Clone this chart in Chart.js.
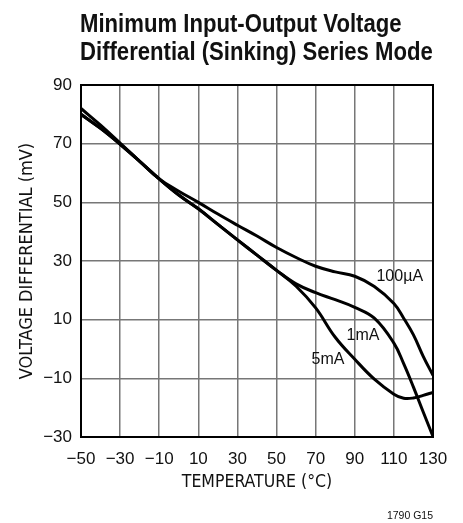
<!DOCTYPE html>
<html>
<head>
<meta charset="utf-8">
<script src="https://cdn.jsdelivr.net/npm/chart.js@4.4.1/dist/chart.umd.min.js"></script>
<style>
  html, body { margin: 0; padding: 0; background: #fff; }
  #wrap { width: 463px; height: 523px; position: relative; }
</style>
</head>
<body>
<div id="wrap"><canvas id="c" width="463" height="523"></canvas></div>
<script>
// ---- data ----
const temperatures = [-50, -40, -30, -20, -10, 0, 10, 20, 30, 40, 50, 60, 70, 80, 90, 100, 110, 115, 120, 125, 130];
const diff100uA = [82, 76.3, 70.2, 64, 58, 53.8, 50, 46, 42.2, 38.5, 34.6, 31.2, 28.2, 26.3, 24.8, 21.3, 15.5, 10.5, 4.8, -2.5, -9];
const diff1mA   = [80, 75.2, 69.8, 64, 58, 52.5, 47.8, 42.5, 37.2, 32, 26.8, 22.2, 19.2, 16.8, 14.2, 10.5, 2.0, -5, -13, -21.5, -29.8];
const diff5mA   = [80, 75.2, 69.8, 64, 58, 52.5, 47.8, 42.5, 37.2, 32, 26.8, 21.4, 14, 4, -3.5, -10.3, -15.4, -16.8, -16.7, -15.8, -14.8];
const seriesNames = ['100\u00B5A', '1mA', '5mA'];
const xTickValues = [-50, -30, -10, 10, 30, 50, 70, 90, 110, 130];
const yTickValues = [-30, -10, 10, 30, 50, 70, 90];
const titleLines = ['Minimum Input-Output Voltage', 'Differential (Sinking) Series Mode'];
const xAxisTitle = 'TEMPERATURE (\u00B0C)';
const yAxisTitle = 'VOLTAGE DIFFERENTIAL (mV)';
const footnote = '1790 G15';
// curve label anchors in data units [temperature, mV]
const curveLabelAnchors = [[113, 24.7], [94.2, 4.5], [76.3, -3.5]];

const NARROW = "'DejaVu Sans Condensed', 'Liberation Sans', sans-serif";
const REG = "'Liberation Sans', Arial, sans-serif";

function toPts(vals) { return temperatures.map((t, i) => ({ x: t, y: vals[i] })); }
function fmt(v) { return v < 0 ? '\u2212' + Math.abs(v) : String(v); }

const decorPlugin = {
  id: 'decor',
  afterDraw(chart) {
    const ctx = chart.ctx;
    const ca = chart.chartArea;
    const xs = chart.scales.x, ys = chart.scales.y;
    ctx.save();
    // frame
    ctx.strokeStyle = '#000';
    ctx.lineWidth = 2;
    ctx.strokeRect(ca.left, ca.top, ca.right - ca.left, ca.bottom - ca.top);
    // title (condensed bold)
    ctx.fillStyle = '#111';
    ctx.textAlign = 'left';
    ctx.textBaseline = 'alphabetic';
    ctx.font = "bold 25px " + REG;
    ctx.save();
    ctx.translate(ca.left - 1, 0);
    ctx.scale(0.885, 1);
    ctx.fillText(titleLines[0], 0, 32);
    ctx.fillText(titleLines[1], 0, 60);
    ctx.restore();
    // curve labels
    ctx.font = "16px " + REG;
    ctx.textAlign = 'center';
    ctx.textBaseline = 'middle';
    seriesNames.forEach((name, i) => {
      const a = curveLabelAnchors[i];
      ctx.fillText(name, xs.getPixelForValue(a[0]), ys.getPixelForValue(a[1]));
    });
    // footnote
    ctx.font = "10.5px " + REG;
    ctx.textAlign = 'right';
    ctx.textBaseline = 'middle';
    ctx.fillText(footnote, ca.right, 516);
    ctx.restore();
  }
};

const lineStyle = { borderColor: '#000', borderWidth: 3, pointRadius: 0, fill: false, tension: 0.4 };

new Chart(document.getElementById('c'), {
  type: 'line',
  data: {
    datasets: [
      Object.assign({ label: seriesNames[0], data: toPts(diff100uA) }, lineStyle),
      Object.assign({ label: seriesNames[1], data: toPts(diff1mA) }, lineStyle),
      Object.assign({ label: seriesNames[2], data: toPts(diff5mA) }, lineStyle)
    ]
  },
  options: {
    responsive: false,
    animation: false,
    layout: { padding: { left: 0, right: 30, top: 85, bottom: 30 } },
    plugins: { legend: { display: false }, tooltip: { enabled: false }, title: { display: false } },
    scales: {
      x: {
        type: 'linear',
        min: xTickValues[0], max: xTickValues[xTickValues.length - 1],
        afterBuildTicks(s) { s.ticks = xTickValues.map(v => ({ value: v })); },
        ticks: { callback: fmt, color: '#111', font: { family: REG, size: 17 }, padding: 12, maxRotation: 0, autoSkip: false },
        grid: { color: '#777', lineWidth: 1.5, drawTicks: false },
        border: { display: true, color: '#000', width: 2 },
        title: { display: true, text: xAxisTitle, color: '#111', font: { family: NARROW, size: 17.5 }, padding: { top: 0, bottom: 0 } },
        afterFit(s) { s.height = 56; }
      },
      y: {
        type: 'linear',
        min: yTickValues[0], max: yTickValues[yTickValues.length - 1],
        afterBuildTicks(s) { s.ticks = yTickValues.map(v => ({ value: v })); },
        ticks: { callback: fmt, color: '#111', font: { family: REG, size: 17 }, padding: 9, autoSkip: false },
        grid: { color: '#777', lineWidth: 1.5, drawTicks: false },
        border: { display: true, color: '#000', width: 2 },
        title: { display: true, text: yAxisTitle, color: '#111', font: { family: NARROW, size: 18 }, padding: { top: 17, bottom: 0 } },
        afterFit(s) { s.width = 81; }
      }
    }
  },
  plugins: [decorPlugin]
});
</script>
</body>
</html>
